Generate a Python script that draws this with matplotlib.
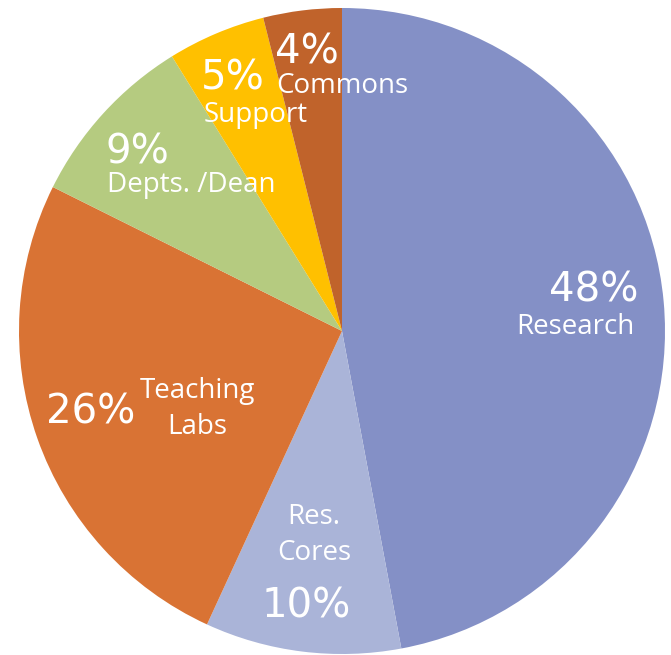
import matplotlib
matplotlib.use("Agg")
import matplotlib.pyplot as plt

# ---- data ----
categories = ["Research", "Res.\nCores", "Teaching\nLabs", "Depts. /Dean", "Support", "Commons"]
values = [48, 10, 26, 9, 5, 4]
pct_labels = ["48%", "10%", "26%", "9%", "5%", "4%"]

# ---- styles / layout ----
colors = ["#8490C6", "#AAB4D8", "#D97334", "#B5CB80", "#FFC000", "#C0632B"]
W, H = 671, 655
cx, cy, R = 342, 331, 323  # pixel centre and radius of the pie

# text positions in pixels (x, y from top)
pct_pos = [(594, 290), (306, 606), (91, 412), (137, 153), (233, 78), (307, 52)]
lab_pos = [(575, 327), (314, 535), (197, 409), (191, 185), (256, 115), (342, 86)]

fig = plt.figure(figsize=(W / 100, H / 100), dpi=100)
ax = fig.add_axes([(cx - R) / W, (H - cy - R) / H, 2 * R / W, 2 * R / H])
ax.pie(values, colors=colors, startangle=90, counterclock=False,
       wedgeprops=dict(linewidth=0))
ax.set_xlim(-1, 1)
ax.set_ylim(-1, 1)
ax.set_aspect("auto")
ax.axis("off")

for (x, y), t in zip(pct_pos, pct_labels):
    fig.text(x / W, 1 - y / H, t, ha="center", va="center", color="white",
             fontsize=29, family="DejaVu Sans")

for (x, y), t in zip(lab_pos, categories):
    fig.text(x / W, 1 - y / H, t, ha="center", va="center", color="white",
             fontsize=20, family="Open Sans", linespacing=1.35)

fig.savefig("out.png", dpi=100)
